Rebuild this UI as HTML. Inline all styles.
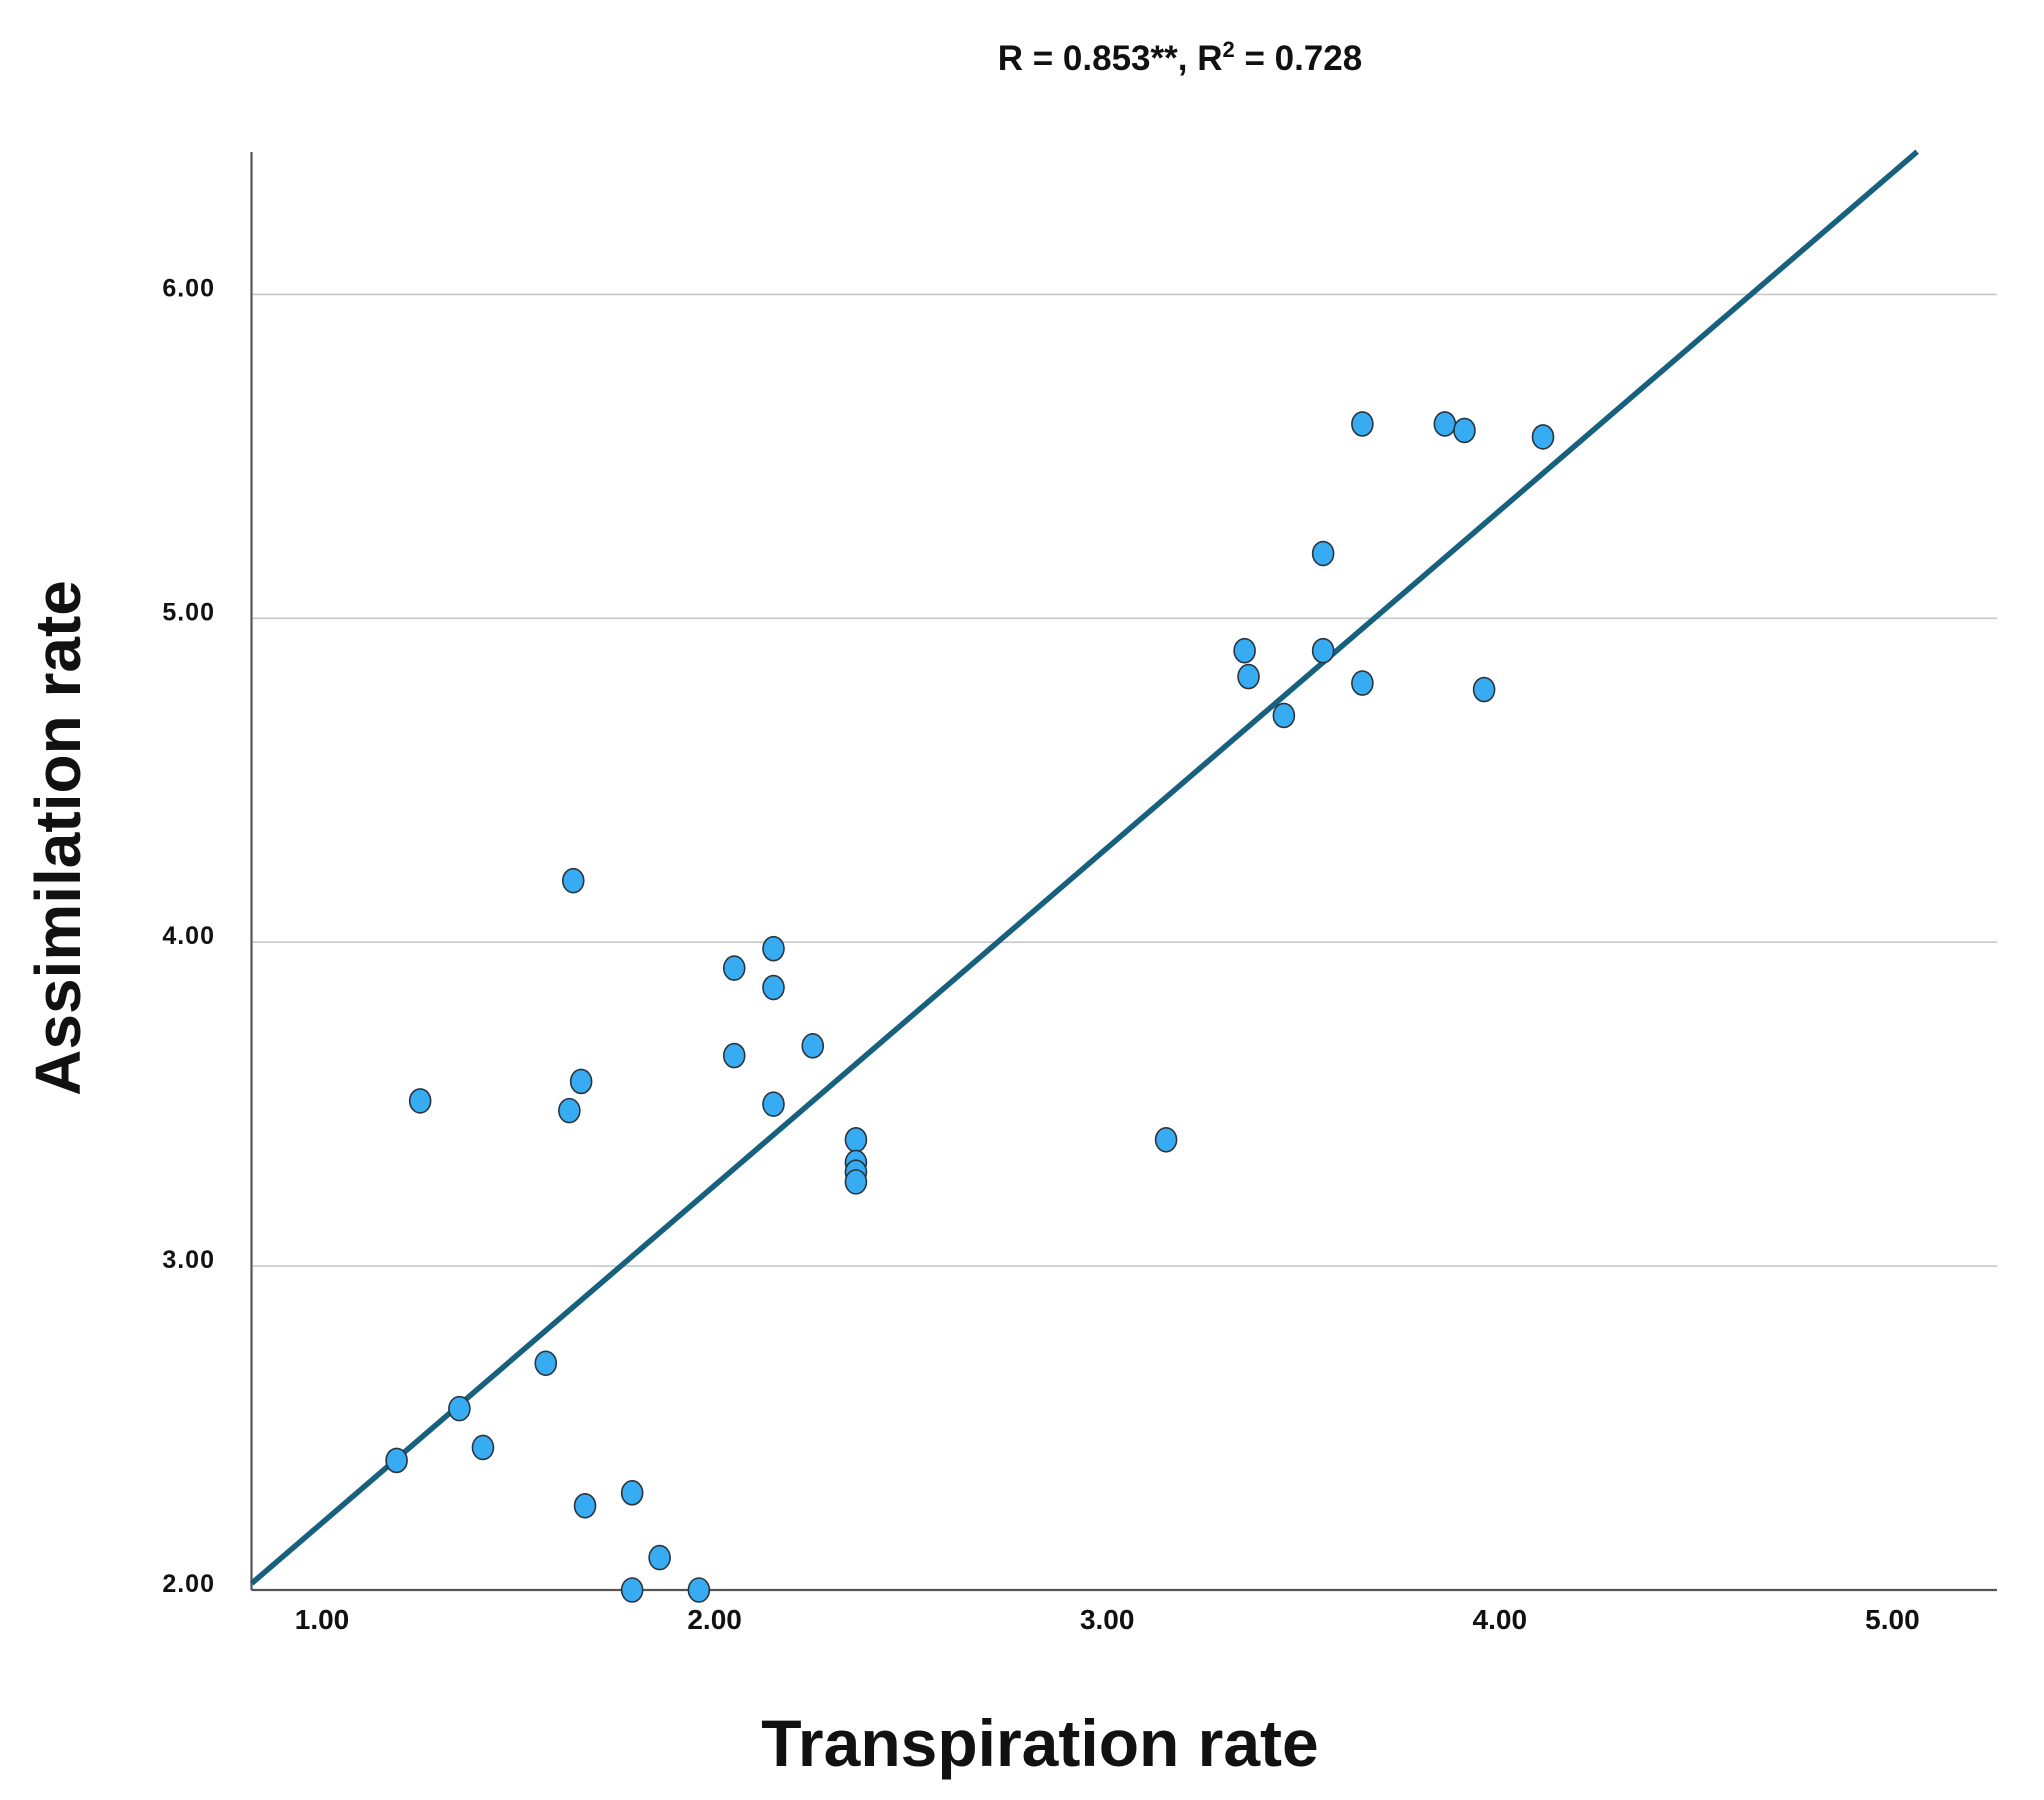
<!DOCTYPE html>
<html><head><meta charset="utf-8"><style>
html,body{margin:0;padding:0;background:#fff;}
svg{display:block;}
text{font-family:"Liberation Sans",Arial,sans-serif;font-weight:bold;fill:#111;}
</style></head><body>
<svg id="chart" width="2044" height="1800" viewBox="0 0 2044 1800">
<text x="1180" y="70" font-size="35" text-anchor="middle">R = 0.853**, R<tspan font-size="22" dy="-13">2</tspan><tspan dy="13"> = 0.728</tspan></text>
<g id="grid"></g>
<g id="axes"></g>
<g id="fit"></g>
<g id="points"></g>
<text x="1040" y="1766" font-size="66" text-anchor="middle">Transpiration rate</text>
<text transform="translate(80,838) rotate(-90)" font-size="64" text-anchor="middle">Assimilation rate</text>
</svg>
<script>
const xTicks = [1, 2, 3, 4, 5];
const yTicks = [2, 3, 4, 5, 6];
const xVals = [1.19,1.25,1.35,1.41,1.57,1.63,1.64,1.66,1.67,1.79,1.79,1.86,1.96,2.05,2.05,2.15,2.15,2.15,2.25,2.36,2.36,2.36,2.36,3.15,3.35,3.36,3.45,3.55,3.55,3.65,3.65,3.86,3.91,3.96,4.11];
const yVals = [2.40,3.51,2.56,2.44,2.70,3.48,4.19,3.57,2.26,2.00,2.30,2.10,2.00,3.92,3.65,3.98,3.86,3.50,3.68,3.39,3.32,3.29,3.26,3.39,4.90,4.82,4.70,5.20,4.90,5.60,4.80,5.60,5.58,4.78,5.56];
const fitIntercept = 1.165;
const fitSlope = 1.042;
const fitRange = [0.821, 5.063];

const NS = "http://www.w3.org/2000/svg";
const X0 = 251.5, X1 = 1997, YTOP = 152, YBOT = 1590;
function sx(v){ return 322 + (v - 1) * 392.6; }
function sy(v){ return 1590 - (v - 2) * 323.9; }
function mk(tag, attrs, parent){
  const e = document.createElementNS(NS, tag);
  for (const k in attrs) e.setAttribute(k, attrs[k]);
  parent.appendChild(e);
  return e;
}
const grid = document.getElementById('grid');
const axes = document.getElementById('axes');
yTicks.forEach(function(t){
  if (t > 2) {
    const g = mk('line', {x1: X0, x2: X1, y1: sy(t), y2: sy(t), stroke: '#c8c8c8', 'stroke-width': 1.6}, grid);
    
    
  }
  const lb = mk('text', {x: 215, y: sy(t) + 2, 'font-size': 25, 'text-anchor': 'end', 'letter-spacing': 1}, axes);
  lb.textContent = t.toFixed(2);
  
  
});
xTicks.forEach(function(t){
  const lb = mk('text', {x: sx(t), y: 1629, 'font-size': 28, 'text-anchor': 'middle'}, axes);
  lb.textContent = t.toFixed(2);
  
  
});
const ya = mk('line', {x1: X0, x2: X0, y1: YTOP, y2: YBOT, stroke: '#555', 'stroke-width': 2.2}, axes);


const xa = mk('line', {x1: X0, x2: X1, y1: YBOT, y2: YBOT, stroke: '#555', 'stroke-width': 2.2}, axes);



const fl = mk('line', {x1: sx(fitRange[0]), y1: sy(fitIntercept + fitSlope * fitRange[0]), x2: sx(fitRange[1]), y2: sy(fitIntercept + fitSlope * fitRange[1]), stroke: '#17607e', 'stroke-width': 5.5}, document.getElementById('fit'));



const pts = document.getElementById('points');
xVals.forEach(function(xv, i){
  const p = mk('ellipse', {cx: sx(xv), cy: sy(yVals[i]), rx: 10.5, ry: 12, fill: '#37acf2', stroke: '#2a3540', 'stroke-width': 1.6}, pts);
  
  
});
</script>
</body></html>
